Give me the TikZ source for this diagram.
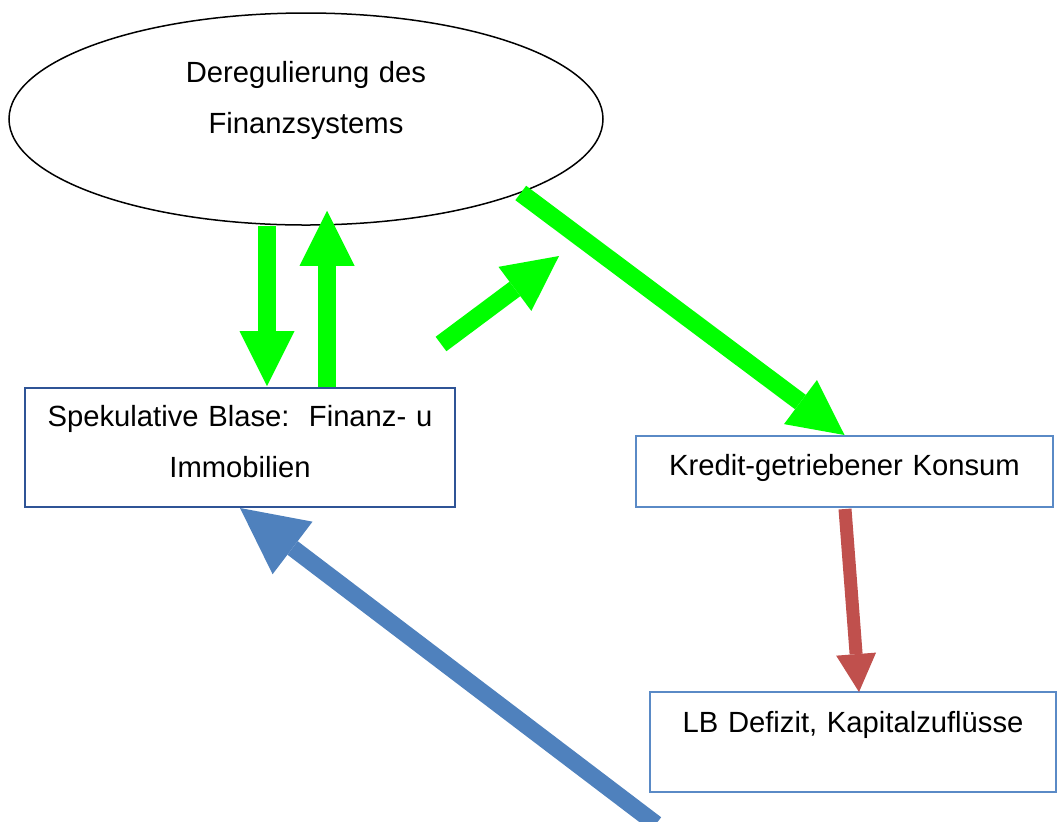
\documentclass[tikz,border=0pt]{standalone}
\usepackage{fontspec}
\setmainfont{Liberation Sans}
\usepackage{tikz}
\usetikzlibrary{shapes.geometric, arrows.meta, calc}
\definecolor{boxnavy}{HTML}{2F5496}
\definecolor{boxblue}{HTML}{5A8AC6}
\definecolor{arrowgreen}{HTML}{00FF00}
\definecolor{arrowred}{HTML}{C0504D}
\definecolor{arrowblue}{HTML}{4F81BD}

\begin{document}
\begin{tikzpicture}[x=0.5pt, y=-0.5pt,
  every node/.style={font=\fontsize{14.6}{25.5}\selectfont},
  textbox/.style={draw, line width=1pt, inner sep=0pt, align=center},
  greenarrow/.style={arrowgreen, line width=9pt,
    -{Triangle[width=27.5pt, length=27.5pt, line width=0pt]}},
  redarrow/.style={arrowred, line width=6.5pt,
    -{Triangle[width=20pt, length=19pt, line width=0pt]}},
  bluearrow/.style={arrowblue, line width=8.5pt,
    -{Triangle[width=33pt, length=33pt, line width=0pt]}}]
  \useasboundingbox (0,0) rectangle (1058,821);

  % nodes: ellipse on top, three boxes below
  \node[ellipse, draw, line width=0.75pt, inner sep=0pt,
        minimum width=297pt, minimum height=106pt,
        text width=200pt, align=center, text height=10pt, text depth=47pt]
        (dereg) at (306,119) {Deregulierung des\\Finanzsystems};
  \node[textbox, draw=boxnavy, text width=215pt, text height=19pt, text depth=40.5pt]
        (blase) at (240,447.5) {Spekulative Blase:\ \ Finanz- u\\Immobilien};
  \node[textbox, draw=boxblue, text width=208.5pt, text height=19.5pt, text depth=16pt]
        (konsum) at (844.5,471.5) {Kredit-getriebener Konsum};
  \node[textbox, draw=boxblue, text width=203pt, text height=20pt, text depth=30pt]
        (defizit) at (853,742) {LB Defizit, Kapitalzuflüsse};

  % free ends
  \coordinate (smalltail) at (441,344);
  \coordinate (smalltip) at (559,256);
  \coordinate (bluetail) at (656,824);

  % arrows
  \draw[greenarrow] ($(dereg.south)+(-39,0)$) -- ($(blase.north)+(27,-1)$);
  \draw[greenarrow] ($(blase.north)+(87,0)$) -- ($(dereg.south)+(21,-15)$);
  \draw[greenarrow] (smalltail) -- (smalltip);
  \draw[greenarrow] (dereg.-19.4) -- (konsum.north);
  \draw[redarrow] ($(konsum.south)+(0.5,1)$) -- ($(defizit.north)+(6,1)$);
  \draw[bluearrow] (bluetail) -- (blase.south);
\end{tikzpicture}
\end{document}
